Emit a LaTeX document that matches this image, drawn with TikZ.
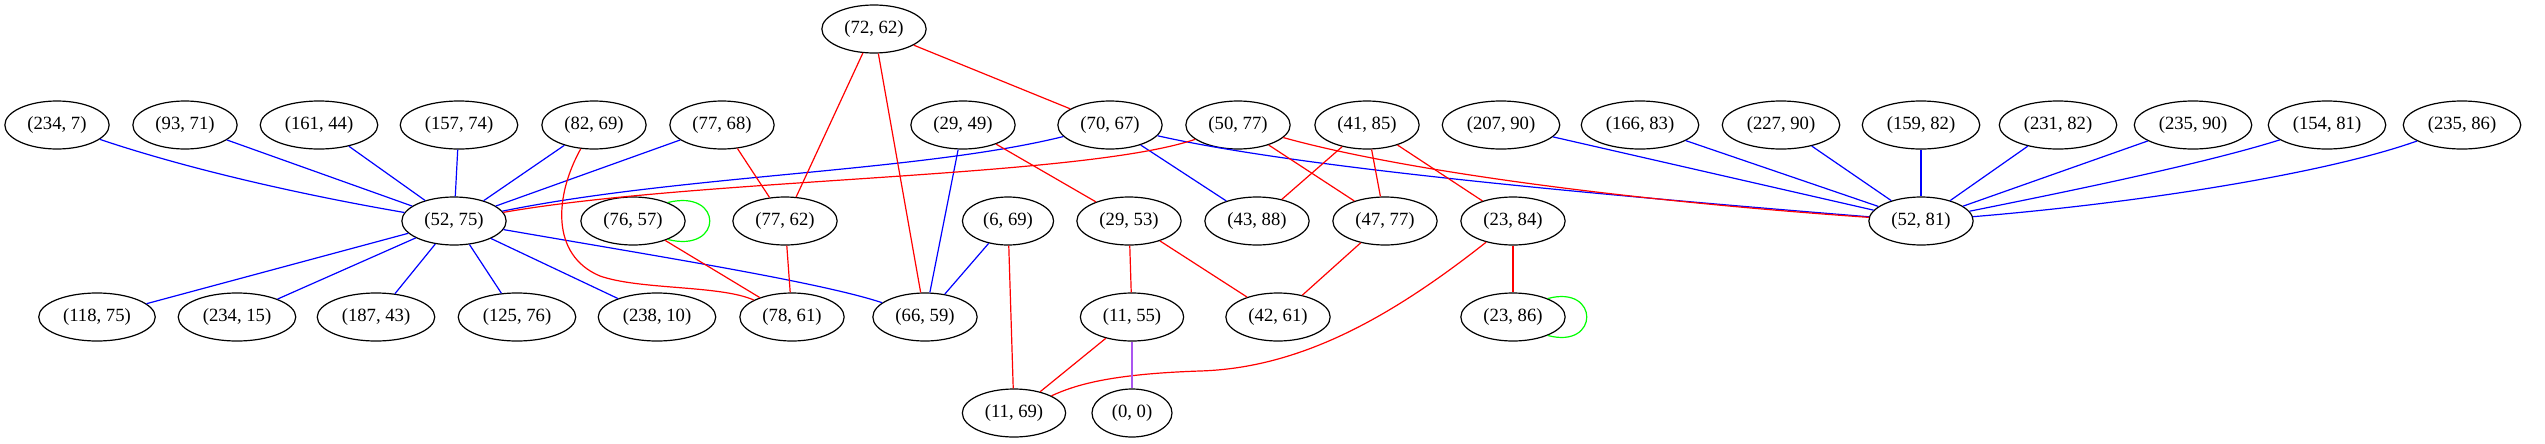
\documentclass[tikz,border=0pt]{standalone}
\usepackage{fontspec}
\setmainfont{Liberation Serif}
\usetikzlibrary{shapes.geometric}
\definecolor{epurple}{RGB}{170,85,240}
\begin{document}
\begin{tikzpicture}[x=0.75pt,y=-0.75pt,
  vx/.style={ellipse,draw,line width=0.9pt,minimum height=36pt,minimum width=60pt,inner xsep=5.5pt,font=\fontsize{14}{16}\selectfont},
  eb/.style={draw=blue,line width=0.9pt},
  er/.style={draw=red,line width=0.9pt},
  eg/.style={draw=green,line width=0.9pt},
  ep/.style={draw=epurple,line width=0.9pt}]
\useasboundingbox (0,0) rectangle (2545,443);
% row 0
\node[vx] (a72b62) at (874,29) {(72, 62)};
% row 1
\node[vx] (a234b7) at (57,125) {(234, 7)};
\node[vx] (a93b71) at (185,125) {(93, 71)};
\node[vx] (a161b44) at (319,125) {(161, 44)};
\node[vx] (a157b74) at (459,125) {(157, 74)};
\node[vx] (a82b69) at (594,125) {(82, 69)};
\node[vx] (a77b68) at (722,125) {(77, 68)};
\node[vx] (a29b49) at (963,125) {(29, 49)};
\node[vx] (a70b67) at (1110,125) {(70, 67)};
\node[vx] (a50b77) at (1238,125) {(50, 77)};
\node[vx] (a41b85) at (1367,125) {(41, 85)};
\node[vx] (a207b90) at (1501,125) {(207, 90)};
\node[vx] (a166b83) at (1640,125) {(166, 83)};
\node[vx] (a227b90) at (1781,125) {(227, 90)};
\node[vx] (a159b82) at (1921,125) {(159, 82)};
\node[vx] (a231b82) at (2058,125) {(231, 82)};
\node[vx] (a235b90) at (2193,125) {(235, 90)};
\node[vx] (a154b81) at (2327,125) {(154, 81)};
\node[vx] (a235b86) at (2462,125) {(235, 86)};
% row 2
\node[vx] (a52b75) at (454,221) {(52, 75)};
\node[vx] (a76b57) at (633,221) {(76, 57)};
\node[vx] (a77b62) at (785,221) {(77, 62)};
\node[vx] (a6b69) at (1008,221) {(6, 69)};
\node[vx] (a29b53) at (1129,221) {(29, 53)};
\node[vx] (a43b88) at (1257,221) {(43, 88)};
\node[vx] (a47b77) at (1385,221) {(47, 77)};
\node[vx] (a23b84) at (1513,221) {(23, 84)};
\node[vx] (a52b81) at (1921,221) {(52, 81)};
% row 3
\node[vx] (a118b75) at (97,317) {(118, 75)};
\node[vx] (a234b15) at (237,317) {(234, 15)};
\node[vx] (a187b43) at (376,317) {(187, 43)};
\node[vx] (a125b76) at (517,317) {(125, 76)};
\node[vx] (a238b10) at (657,317) {(238, 10)};
\node[vx] (a78b61) at (792,317) {(78, 61)};
\node[vx] (a66b59) at (925,317) {(66, 59)};
\node[vx] (a11b55) at (1132,317) {(11, 55)};
\node[vx] (a42b61) at (1278,317) {(42, 61)};
\node[vx] (a23b86) at (1513,317) {(23, 86)};
% row 4
\node[vx] (a11b69) at (1014,413) {(11, 69)};
\node[vx] (a0b0) at (1132,413) {(0, 0)};

% blue edges into (52, 75)
\draw[eb] (a234b7) .. controls (200,173) and (320,198) .. (a52b75);
\draw[eb] (a93b71) -- (a52b75);
\draw[eb] (a161b44) -- (a52b75);
\draw[eb] (a157b74) -- (a52b75);
\draw[eb] (a82b69) -- (a52b75);
\draw[eb] (a77b68) -- (a52b75);
\draw[eb] (a70b67) .. controls (920,172) and (680,175) .. (a52b75);
\draw[eb] (a52b75) -- (a118b75);
\draw[eb] (a52b75) -- (a234b15);
\draw[eb] (a52b75) -- (a187b43);
\draw[eb] (a52b75) -- (a125b76);
\draw[eb] (a52b75) -- (a238b10);
\draw[eb] (a52b75) .. controls (650,255) and (820,282) .. (a66b59);
% other blue
\draw[eb] (a29b49) -- (a66b59);
\draw[eb] (a6b69) -- (a66b59);
\draw[eb] (a70b67) -- (a43b88);
\draw[eb] (a70b67) .. controls (1300,168) and (1600,195) .. (a52b81);
% blue edges into (52, 81)
\draw[eb] (a207b90) -- (a52b81);
\draw[eb] (a166b83) -- (a52b81);
\draw[eb] (a227b90) -- (a52b81);
\draw[eb] (a159b82) -- (a52b81);
\draw[eb] (a231b82) -- (a52b81);
\draw[eb] (a235b90) -- (a52b81);
\draw[eb] (a154b81) .. controls (2200,165) and (2050,195) .. (a52b81);
\draw[eb] (a235b86) .. controls (2330,172) and (2150,202) .. (a52b81);

% red edges
\draw[er] (a50b77) .. controls (1080,178) and (700,178) .. (a52b75);
\draw[er] (a50b77) .. controls (1400,170) and (1620,200) .. (a52b81);
\draw[er] (a82b69) .. controls (555,195) and (550,255) .. (600,276) .. controls (640,290) and (720,285) .. (a78b61);
\draw[er] (a77b68) -- (a77b62);
\draw[er] (a72b62) -- (a77b62);
\draw[er] (a72b62) -- (a66b59);
\draw[er] (a72b62) -- (a70b67);
\draw[er] (a76b57) -- (a78b61);
\draw[er] (a77b62) -- (a78b61);
\draw[er] (a29b49) -- (a29b53);
\draw[er] (a6b69) -- (a11b69);
\draw[er] (a29b53) -- (a11b55);
\draw[er] (a29b53) -- (a42b61);
\draw[er] (a11b55) -- (a11b69);
\draw[er] (a23b84) .. controls (1390,318) and (1300,368) .. (1200,371) .. controls (1110,374) and (1075,385) .. (a11b69);
\draw[er] (a50b77) -- (a47b77);
\draw[er] (a41b85) -- (a43b88);
\draw[er] (a41b85) -- (a47b77);
\draw[er] (a41b85) -- (a23b84);
\draw[er] (a47b77) -- (a42b61);
\draw[er] (a23b84) -- (a23b86);
% purple
\draw[ep] (a11b55) -- (a0b0);
% self loops
\draw[eg] (a76b57.28) .. controls +(56,-14) and +(56,14) .. (a76b57.-28);
\draw[eg] (a23b86.28) .. controls +(52,-14) and +(52,14) .. (a23b86.-28);
\end{tikzpicture}
\end{document}
